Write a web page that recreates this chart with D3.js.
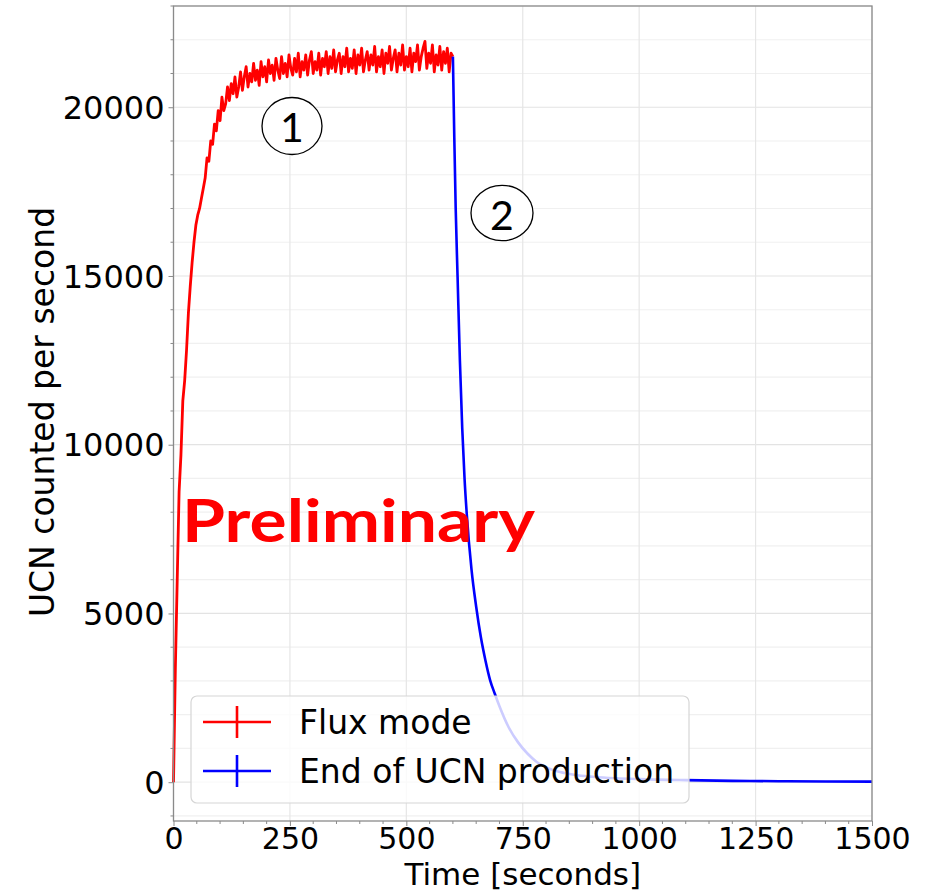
<!DOCTYPE html>
<html><head><meta charset="utf-8">
<script src="https://cdn.jsdelivr.net/npm/d3@7"></script>
<style>body{margin:0;background:#fff}svg{display:block}</style>
</head><body>
<svg id="c" width="935" height="891"></svg>
<script>
// Flux mode (red): counts per second, sampled every 4 s from 0 to 600 s
const fluxTimes = d3.range(0, 601, 4);
const fluxValues = [
0,3400,6000,8600,9700,11300,11900,12800,13900,14700,15400,16000,16500,16800,17000,17300,
17600,17900,18500,18400,19000,18900,19500,19300,19900,19600,20300,19900,20100,20600,20200,20700,
20400,20900,20300,20600,21050,20500,20900,21200,20600,21000,20750,21300,20800,21100,20650,21350,
20900,21200,20750,21400,21000,21250,20800,21450,21100,20850,21500,21000,21300,20900,21550,21150,
20950,21450,21050,21600,20900,21350,21100,21550,20950,21400,21650,21000,21350,21100,21600,20950,
21450,21200,21650,21000,21500,21150,21700,21050,21400,21600,21000,21500,21200,21750,21050,21450,
21150,21700,21000,21550,21250,21750,21050,21400,21650,21100,21550,21250,21800,21050,21500,21200,
21700,21000,21600,21300,21800,21100,21450,21700,21050,21600,21250,21850,21100,21500,21200,21750,
21050,21600,21350,21850,21100,21500,21750,21950,21150,21600,21300,21850,21050,21550,21250,21800,
21100,21650,21300,21750,21050,21600,21500
];
// End of UCN production (blue): decay after 600 s
const decayTimes = [600,603,606,610,615,620,625,630,640,650,660,670,680,690,700,720,740,760,780,800,830,860,900,950,1000,1100,1200,1300,1400,1500];
const decayValues = [21500,19100,17000,15000,12500,10500,9000,7900,6300,5200,4300,3600,3020,2620,2250,1620,1180,850,600,440,300,220,160,115,90,60,40,30,22,18];

const xTicks = [0,250,500,750,1000,1250,1500];
const yTicks = [0,5000,10000,15000,20000];
const legendLabels = ["Flux mode","End of UCN production"];
const legendColors = ["#ff0000","#0000ff"];
const annotations = ["1","2"];

const svg = d3.select("#c");
const L=173.5, R=872, T=6, B=821;
const x = d3.scaleLinear().domain([0,1500]).range([L,R]);
const y = d3.scaleLinear().domain([-1150,23000]).range([B,T]);

// grid
const g = svg.append("g");
g.selectAll(".ymin").data(d3.range(-1000, 23001, 1000)).join("line")
  .attr("x1",L).attr("x2",R).attr("y1",d=>y(d)).attr("y2",d=>y(d))
  .attr("stroke", d=> d%5000===0 ? "#e3e3e3" : "#f0f0f0").attr("stroke-width",1.2);
g.selectAll(".xmaj").data(xTicks).join("line")
  .attr("x1",d=>x(d)).attr("x2",d=>x(d)).attr("y1",T).attr("y2",B)
  .attr("stroke","#e6e6e6").attr("stroke-width",1.2);

// data lines
const lineGen = d3.line().x(d=>x(d[0])).y(d=>y(d[1]));
svg.append("path").datum(fluxTimes.map((t,i)=>[t,fluxValues[i]]))
  .attr("d", lineGen).attr("fill","none").attr("stroke","#ff0000").attr("stroke-width",2.8).attr("stroke-linejoin","round");
svg.append("path").datum(decayTimes.map((t,i)=>[t,decayValues[i]]))
  .attr("d", d3.line().x(d=>x(d[0])).y(d=>y(d[1])).curve(d3.curveMonotoneX))
  .attr("fill","none").attr("stroke","#0000ff").attr("stroke-width",2.6);

// frame
svg.append("rect").attr("x",L).attr("y",T).attr("width",R-L).attr("height",B-T)
  .attr("fill","none").attr("stroke","#8a8a8a").attr("stroke-width",1.3);

// x axis
const xAxis = d3.axisBottom(x).tickValues(xTicks).tickSize(5).tickPadding(4).tickFormat(d3.format("d"));
const gx = svg.append("g").attr("transform",`translate(0,${B})`).call(xAxis);
gx.select(".domain").remove();
gx.selectAll(".tick line").attr("stroke","#8a8a8a");
gx.selectAll(".tick text").attr("font-family","DejaVu Sans").attr("font-size",30).attr("fill","#000").attr("y",28).attr("dy",0);
const xMinor = d3.range(0,1501,50).filter(d=>d%250!==0);
svg.append("g").selectAll("line").data(xMinor).join("line")
  .attr("x1",d=>x(d)).attr("x2",d=>x(d)).attr("y1",B).attr("y2",B+3).attr("stroke","#8a8a8a");

// y axis
const yAxis = d3.axisLeft(y).tickValues(yTicks).tickSize(5).tickPadding(4).tickFormat(d3.format("d"));
const gy = svg.append("g").attr("transform",`translate(${L},0)`).call(yAxis);
gy.select(".domain").remove();
gy.selectAll(".tick line").attr("stroke","#8a8a8a");
gy.selectAll(".tick text").attr("font-family","DejaVu Sans").attr("font-size",32).attr("fill","#000").attr("dy","0.35em");
const yMinor = d3.range(-1000,23001,1000).filter(d=>d%5000!==0);
svg.append("g").selectAll("line").data(yMinor).join("line")
  .attr("x1",L-3).attr("x2",L).attr("y1",d=>y(d)).attr("y2",d=>y(d)).attr("stroke","#8a8a8a");

// axis labels
svg.append("text").attr("x",(L+R)/2).attr("y",884.5).attr("text-anchor","middle")
  .attr("font-family","DejaVu Sans").attr("font-size",31).text("Time [seconds]");
svg.append("text").attr("transform","translate(54,412) rotate(-90)").attr("text-anchor","middle")
  .attr("font-family","DejaVu Sans").attr("font-size",33).text("UCN counted per second");

// legend
const lg = svg.append("g");
lg.append("rect").attr("x",191).attr("y",696).attr("width",498).attr("height",107).attr("rx",6)
  .attr("fill","#fff").attr("fill-opacity",0.8).attr("stroke","#d6d6d6").attr("stroke-width",1.2);
legendLabels.forEach((lab,i)=>{
  const cy = 722 + i*49;
  lg.append("line").attr("x1",203).attr("x2",271).attr("y1",cy).attr("y2",cy).attr("stroke",legendColors[i]).attr("stroke-width",2.6);
  lg.append("line").attr("x1",237).attr("x2",237).attr("y1",cy-16).attr("y2",cy+16).attr("stroke",legendColors[i]).attr("stroke-width",2.6);
  lg.append("text").attr("x",299).attr("y",cy+12).attr("font-family","DejaVu Sans").attr("font-size",33).attr("fill","#000").text(lab);
});

// annotations
const annPos = [[292,126,30,28.5,142],[502,213,31,27.7,230]];
annotations.forEach((a,i)=>{
  const [cx,cy,rx,ry,bl]=annPos[i];
  svg.append("ellipse").attr("cx",cx).attr("cy",cy).attr("rx",rx).attr("ry",ry).attr("fill","#fff").attr("stroke","#000").attr("stroke-width",1.3);
  svg.append("text").attr("x",cx).attr("y",bl).attr("text-anchor","middle").attr("font-family","Lato").attr("font-size",41).attr("fill","#000").text(a);
});

svg.append("text").attr("x",182).attr("y",542).attr("font-family","Lato").attr("font-weight",700)
  .attr("font-size",60).attr("fill","#ff0000").attr("textLength",353).attr("lengthAdjust","spacingAndGlyphs").text("Preliminary");
</script>
</body></html>
